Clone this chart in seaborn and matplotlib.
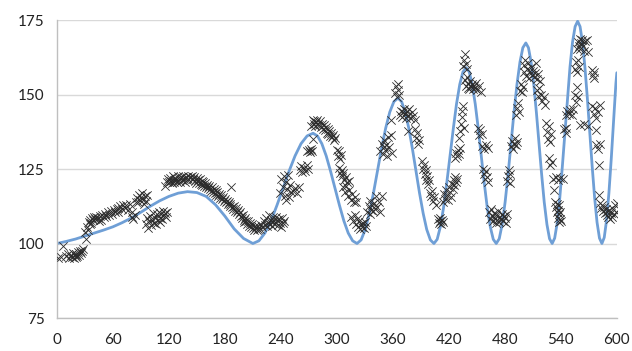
import matplotlib
matplotlib.use("Agg")
import matplotlib.pyplot as plt
import seaborn as sns

sns.set_theme(style="white")
plt.rcParams['font.family'] = ['Lato', 'DejaVu Sans']

# fitted curve
curve_x = [0, 10, 20, 30, 40, 50, 60, 70, 80, 90, 100, 110, 120, 130, 140,
           150, 160, 170, 180, 190, 200, 210,
           216.5, 222.9, 229.4, 235.8, 242.3, 248.7, 255.2, 261.6, 268.1, 274.5,
           279.2, 283.9, 288.6, 293.3, 298.1, 302.8, 307.5, 312.2, 316.9, 321.6,
           326, 330.4, 334.8, 339.2, 343.6, 347.9, 352.3, 356.7, 361.1, 365.5,
           369.4, 373.2, 377.1, 380.9, 384.8, 388.6, 392.5, 396.3, 400.2, 404,
           407.5, 410.9, 414.4, 417.8, 421.3, 424.8, 428.2, 431.7, 435.1, 438.6,
           441.8, 445, 448.3, 451.5, 454.7, 457.9, 461.1, 464.4, 467.6, 470.8,
           474, 477.1, 480.3, 483.5, 486.7, 489.8, 493, 496.2, 499.3, 502.5,
           505.3, 508.1, 511, 513.8, 516.6, 519.4, 522.2, 525.1, 527.9, 530.7,
           533.4, 536.2, 538.9, 541.6, 544.4, 547.1, 549.8, 552.5, 555.3, 558,
           560.6, 563.2, 565.8, 568.4, 571, 573.6, 576.2, 578.8, 581.4, 584,
           586.5, 589, 591.5, 594, 596.5, 599, 600]
curve_y = [100, 100.7, 101.5, 102.5, 103.5, 104.5, 105.6, 107, 108.6, 110.5, 112.5, 114.3, 115.8, 116.9, 117.4,
           117.1, 115.8, 113, 109.2, 104.9, 101.7, 100,
           100.9, 103.5, 107.6, 112.8, 118.5, 124.2, 129.4, 133.5, 136.1, 137,
           136.1, 133.5, 129.4, 124.2, 118.5, 112.8, 107.6, 103.5, 100.9, 100,
           101.2, 104.7, 110.1, 116.9, 124.4, 131.9, 138.7, 144.1, 147.6, 148.8,
           147.6, 144.1, 138.7, 131.9, 124.4, 116.9, 110.1, 104.7, 101.2, 100,
           101.4, 105.6, 112.2, 120.4, 129.5, 138.6, 146.8, 153.4, 157.6, 159,
           157.6, 153.4, 146.8, 138.6, 129.5, 120.4, 112.2, 105.6, 101.4, 100,
           101.6, 106.4, 113.9, 123.3, 133.7, 144, 153.4, 160.9, 165.7, 167.3,
           165.7, 160.9, 153.4, 144, 133.7, 123.3, 113.9, 106.4, 101.6, 100,
           101.8, 107.1, 115.4, 125.8, 137.3, 148.8, 159.2, 167.5, 172.8, 174.6,
           172.8, 167.5, 159.2, 148.8, 137.3, 125.8, 115.4, 107.1, 101.8, 100,
           102, 107.8, 116.9, 128.3, 141, 153.7, 157.3]

# observed points
obs_x = [1, 4, 7, 10, 12, 13, 15, 16, 17, 18, 19, 20, 21, 22, 23, 24, 25, 26, 27, 28,
         30, 31, 32, 33, 34, 35, 36, 37, 38, 39, 40, 41, 42, 44, 45, 46, 47, 48, 50, 52,
         53, 55, 56, 58, 59, 61, 62, 64, 65, 66, 68, 70, 71, 73, 74, 76, 78,
         80, 81, 82, 84, 85, 86, 87, 88, 89, 90, 91, 92, 93, 94, 96, 97,
         95, 97, 98, 99, 100, 101, 102, 103, 104, 105, 106, 107, 108, 109, 110, 111,
         112, 113, 114, 115, 116, 117, 118,
         116, 118, 119, 120, 121, 122, 123, 124, 125, 126, 127, 128, 129, 130, 131,
         132, 133, 134, 135, 136, 137, 138, 139, 140, 141, 143,
         145, 146, 147, 148, 149, 150, 151, 152, 153, 154, 155, 156, 157, 158, 159,
         160, 161, 162, 163,
         164, 165, 166, 167, 168, 169, 170, 171, 172, 173, 174, 175, 176, 177, 178,
         179, 180, 181, 187,
         182, 183, 184, 185, 186, 188, 189, 190, 191, 192, 193, 194, 195, 196,
         197, 198, 199, 200, 201, 202, 203, 204, 205, 206, 207, 208,
         209, 210, 211, 212, 213, 214, 215, 216, 218, 219, 220,
         222, 223, 224, 225, 226, 227, 228, 229, 230, 231, 232, 233, 234, 235, 236,
         237, 238, 239, 240, 241, 242, 243,
         239, 240, 242, 243, 244, 245, 246, 247, 248, 249, 250, 251,
         253, 255, 257, 259, 261, 262, 263, 265, 266, 268, 269,
         268, 270, 271, 272, 273, 274.5,
         272, 274, 275, 276, 277, 278, 279, 280, 281, 282, 283, 284, 285, 286, 287,
         288, 289, 290, 291, 292, 293, 294, 295, 296, 297, 298,
         300, 301, 302, 303, 304,
         302, 303, 305, 306, 307, 308, 310, 311, 313,
         307, 309, 310, 312, 313, 315, 316, 318, 319, 320,
         315, 317, 319, 320, 322, 323, 324, 325, 326, 327, 328, 329, 330, 331,
         332, 334, 335, 336, 337, 338, 339, 340, 341, 342, 343, 345, 346, 348,
         346, 348, 349, 350, 351, 352, 353, 354, 355, 356, 358, 359, 358,
         362, 363, 364, 365, 366, 367,
         368, 369, 370, 371, 372, 373, 374, 375, 376, 377, 378, 380, 382, 384, 376,
         384, 385, 386, 387, 388,
         391, 392, 393, 394, 395, 396, 397, 398, 399,
         400, 401, 402, 403, 404, 406,
         408, 409, 410, 411, 412, 413, 414,
         414, 415, 416, 417, 418, 419, 420, 421, 422, 423, 424, 425, 426, 427, 428, 429,
         427, 428, 429, 430, 431, 432,
         431, 432, 433, 434, 434.5, 435.5, 436,
         435, 436, 437, 438, 439,
         437, 438, 439, 440,
         441, 442, 443, 444, 445, 446, 447, 448, 449, 450, 452, 454,
         451, 452, 453, 455,
         456, 458, 460, 462,
         457, 458, 459, 460, 461, 462,
         463, 464, 465, 466, 467, 468, 469, 470, 471, 472, 473, 474, 475, 476, 477,
         478, 479, 480, 481, 482,
         482, 483, 484, 485, 486,
         487, 488, 489, 490, 491, 492, 493,
         492, 493, 494, 495,
         496, 497, 498, 499,
         500, 501, 502, 503, 504, 505, 506, 507, 508, 509, 510, 511, 512, 513, 514,
         516, 518,
         514, 516, 517, 519, 520, 522, 523,
         524.5, 525, 526, 527, 528, 529,
         527, 528, 530,
         532, 535, 537, 539, 542, 533,
         534, 535, 535.5, 536, 536.5, 537, 537.5, 538, 538.5, 539, 539.5, 540,
         543, 545, 546,
         546, 547, 549, 550, 552, 553,
         555, 556, 557, 558,
         555, 556, 557, 558, 559,
         557, 558, 559, 560, 561, 562, 563, 564, 565, 566, 568, 569,
         573, 574, 575, 576,
         560, 565, 569,
         573, 575, 577, 578, 580, 582,
         578, 578, 580, 582, 581, 581,
         582, 583, 584, 585, 586, 587, 588, 589, 590, 591, 592, 593, 594, 595, 596,
         597, 598, 599, 600]
obs_y = [95, 95.5, 99.2, 95.8, 96.4, 95.2, 96, 95.5, 96.8, 95.3, 96.2, 95.6, 96.5, 95.8, 97, 96.2, 97.6, 96.8, 97.4, 98,
         103.9, 101.5, 105.6, 104.5, 107.3, 106.5, 108, 107, 108.6, 107.8, 108.8, 108.1, 109, 108.4, 107.4, 109.2, 108, 109.5, 108.8, 110,
         109.3, 110.5, 109.6, 110.8, 110, 111.3, 110.5, 111.5, 112, 110.6, 112.5, 111.5, 113, 112, 112.8, 111.4, 113.2,
         109, 110.5, 108.2, 109.5, 114, 115.2, 113.8, 116.3, 114.6, 115.5, 117, 114.5, 113.2, 115.8, 114.2, 116.4,
         106.5, 108.5, 105.2, 107.5, 109.3, 106.2, 108, 110.2, 107, 108.5, 106.5, 109.8, 107.8, 110.6, 108.6, 107.2,
         109.8, 108.3, 111, 109.5, 110.4, 108.8, 110.5,
         119.2, 120.6, 121.8, 120.5, 122, 121, 120.2, 122.5, 121.3, 120.6, 122, 121.4, 120.8, 122.6, 121.5,
         120.5, 122.3, 121.2, 122.8, 121.8, 120.7, 122.4, 121.3, 122.5, 121.5, 122.2,
         122.8, 121.5, 122.3, 121, 120.4, 122, 121.2, 120.3, 121.6, 120, 121, 119.6, 120.6, 119.3, 120.2,
         119, 119.8, 118.5, 119.3,
         118.4, 117.6, 119, 117.2, 118.2, 116.8, 117.8, 116.2, 117.2, 115.8, 116.6, 115.3, 116.2, 114.8, 115.6,
         114.2, 115, 113.8, 119,
         114.4, 113.2, 114, 112.6, 113.4, 112.2, 111.5, 112.5, 111, 111.8, 110.5, 111.2, 109.8, 110.6,
         109.2, 108.5, 109.5, 108, 107.2, 108.4, 107.6, 106.5, 107.5, 106, 107, 105.6,
         106.5, 105.2, 104.7, 106, 105.4, 104.6, 105.8, 105, 104.8, 106.2, 105.5,
         107.5, 106.2, 108.6, 105.8, 107, 109.5, 106.5, 108, 107.2, 105.9, 108.8, 107.5, 106.4, 109, 107.8,
         106.3, 108.2, 107, 105.7, 108.5, 106.8, 107.6,
         117, 121.5, 119, 122.8, 116, 120.5, 114.5, 118.2, 123, 115.5, 119.5, 117.3,
         117.5, 118.5, 117, 118.8, 124.5, 126, 124, 125.5, 124.3, 126.2, 125,
         131.2, 131.5, 130.8, 131.8, 131.2, 135,
         139.5, 141.5, 140.2, 141, 139.5, 140.8, 141.5, 140.2, 139.6, 141, 139, 140.2, 138.4, 139.6, 138,
         139, 137.2, 138.3, 136.8, 137.6, 136, 137, 135.6, 136.4, 134.8, 135.5,
         131.5, 129.5, 131, 128.5, 129.8,
         125.2, 123.6, 124.8, 122.5, 123.8, 121.2, 122.3, 120.5, 121,
         118.8, 117.2, 119.2, 116, 117.8, 114.5, 116.5, 113.8, 115.5, 114,
         109, 107.5, 109.6, 106.5, 108.2, 105.5, 107.4, 104.8, 106.6, 105.4, 106.8, 105.2, 107.2, 106,
         110.5, 112.6, 110, 114.2, 111.4, 112.8, 110.8, 113.5, 111.6, 115.8, 112.4, 114, 110.5, 116,
         131, 133.5, 130.2, 132.4, 134.6, 131.5, 133, 129.4, 135.6, 132.5, 136.4, 130.5, 141.5,
         150.5, 152.8, 149.2, 151.5, 153.5, 150,
         143, 144.5, 142.5, 144, 145.2, 143.4, 142, 144.6, 143, 145, 142.2, 144, 142.8, 141.6, 137.6,
         138.5, 135.5, 137.2, 133.5, 134.8,
         127.8, 125, 126.5, 123.2, 124.5, 121.4, 122.8, 120, 121.2,
         117, 115.8, 117.5, 114.2, 115.5, 113,
         108.2, 107, 108.5, 107.6, 106.4, 108, 107.2,
         114, 116.5, 115, 118, 116.2, 114.6, 119, 117.4, 115.6, 120, 118.4, 121.2, 119.6, 122.2, 120.6, 121.8,
         128.6, 130.5, 129.2, 131.5, 130, 132.2,
         135.5, 137.8, 140.2, 142.4, 144.5, 146, 138.6,
         159.5, 161.5, 163.5, 160.2, 158.6,
         155, 153, 156, 152.2,
         153.5, 152, 154.5, 152.8, 153.5, 151.8, 153, 152.2, 154, 151.5, 152.8, 150.8,
         138.6, 136.4, 138, 136.8,
         132.8, 131.6, 133.2, 132,
         125, 123.2, 121.5, 124.2, 122.4, 120.5,
         110.5, 108.2, 111.5, 109.2, 107.5, 110.2, 108.6, 106.9, 109.6, 108, 110.8, 107.2, 109, 108.2, 110,
         107.5, 109.3, 108.6, 107, 109.8,
         121, 122.8, 124.6, 120.4, 123.4,
         132.6, 134.5, 131.8, 133.4, 135.4, 133, 134,
         143.2, 145.5, 147, 144,
         151.2, 153.6, 150.8, 152.4,
         157.5, 159.8, 161.5, 156.2, 158.6, 160.6, 155.4, 157.8, 159.2, 156.5, 158, 155.8, 157.2, 160.5, 155.2,
         156.8, 154.5,
         151.4, 149.6, 152.2, 150, 147.8, 149.2, 146.4,
         140.6, 137.5, 135.2, 139.4, 134, 136.6,
         128.6, 126.4, 127.5,
         121.8, 122.2, 121.4, 122, 121.6, 117.9,
         114, 112.2, 110.5, 113.2, 108.6, 111.4, 107.2, 109.8, 112.8, 108.2, 110.6, 107.6,
         138.5, 137.2, 138.8,
         143.2, 144.6, 143.6, 144.8, 143, 145,
         150, 147.6, 152.5, 149.2,
         158.5, 160.8, 157.6, 161.5, 159.2,
         165.4, 167.6, 166.2, 168.5, 165.2, 167.2, 168.3, 166.4, 164.6, 167.8, 168.4, 164.2,
         158.2, 156.4, 157.6, 155.4,
         139.8, 140.2, 139.5,
         146, 143.6, 145.4, 142.2, 144.2, 146.5,
         138.2, 133, 131.8, 133.4, 126.4, 116.3,
         113.5, 111.8, 113, 111, 112.4, 110.2, 111.6, 109.4, 110.6, 109, 111.2, 108.2, 110.2, 108.8, 111.6,
         109.8, 112.8, 110.5, 113.6]

x_ticks = [0, 60, 120, 180, 240, 300, 360, 420, 480, 540, 600]
y_ticks = [75, 100, 125, 150, 175]

fig = plt.figure(figsize=(6.32, 3.51), dpi=100)
ax = fig.add_axes([0.090, 0.094, 0.886, 0.849])

sns.lineplot(x=curve_x, y=curve_y, ax=ax, color='#6f9fd6', linewidth=2.0,
             sort=False, zorder=2)
sns.scatterplot(x=obs_x, y=obs_y, ax=ax, marker='x', color='#2b2b2b',
                s=36, linewidth=0.6, zorder=3)

ax.set_xlim(0, 600)
ax.set_ylim(75, 175)
ax.set_xticks(x_ticks)
ax.set_yticks(y_ticks)
ax.yaxis.grid(True, color='#d9d9d9', linewidth=1)
ax.set_axisbelow(True)

for s in ['top', 'right']:
    ax.spines[s].set_visible(False)
for s in ['left', 'bottom']:
    ax.spines[s].set_color('#bfbfbf')
    ax.spines[s].set_linewidth(1)

ax.tick_params(axis='both', which='both', direction='out', length=4, width=1,
               color='#bfbfbf', labelsize=11, labelcolor='#222222')
ax.tick_params(axis='x', pad=7)
ax.tick_params(axis='y', pad=5)
ax.set_xlabel('')
ax.set_ylabel('')

fig.savefig('out.png', dpi=100)
